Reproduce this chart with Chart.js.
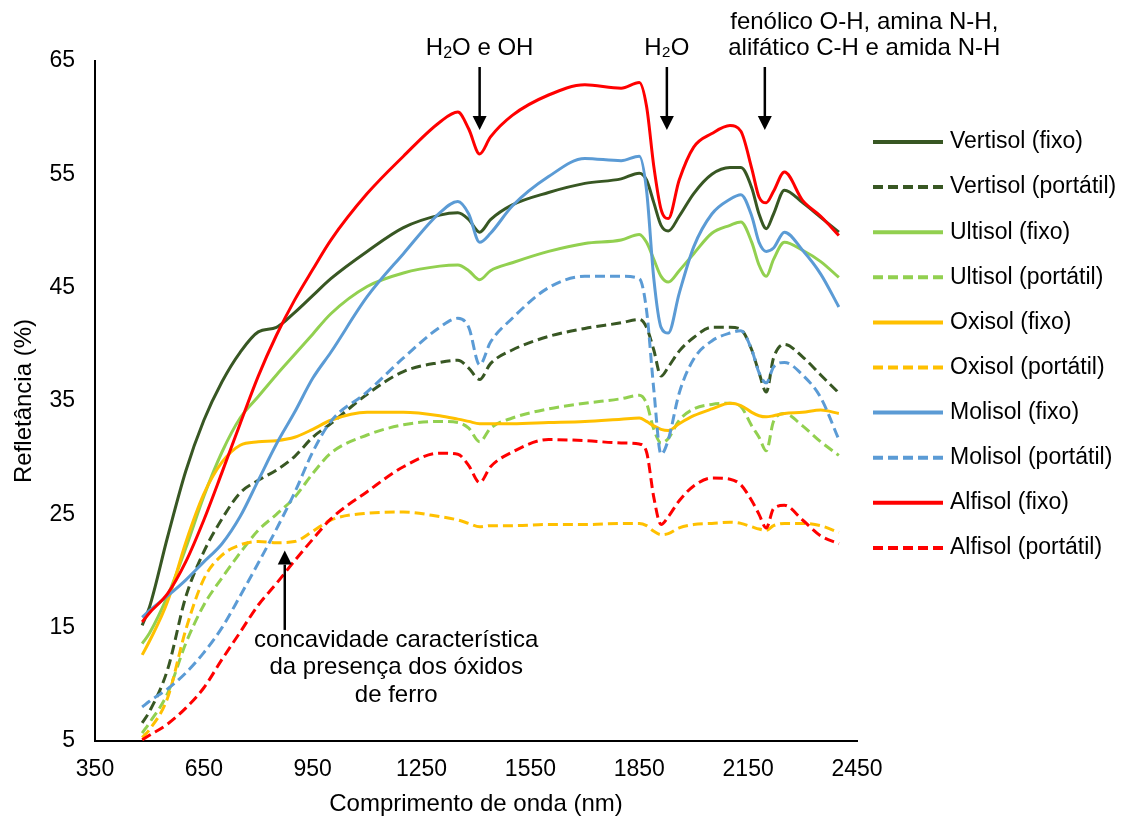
<!DOCTYPE html>
<html>
<head>
<meta charset="utf-8">
<script src="https://cdn.jsdelivr.net/npm/chart.js@4.4.1/dist/chart.umd.min.js"></script>
<style>
  html, body { margin: 0; padding: 0; background: #fff; }
  #wrap { width: 1136px; height: 820px; }
</style>
</head>
<body>
<div id="wrap"><canvas id="chart"></canvas></div>
<script>
// wavelength (nm)
const wavelengths = [480, 500, 550, 600, 650, 700, 750, 800, 850, 900, 950, 1000, 1100, 1200, 1300, 1350, 1380, 1410, 1440, 1500,
  1600, 1700, 1800, 1850, 1870, 1890, 1910, 1930, 1960, 2000, 2050, 2100, 2130, 2160, 2180, 2200, 2220, 2250, 2300, 2350, 2400];

// reflectance (%) per soil / sensor
const vertisolFixo = [15.2, 16.8, 23.0, 28.8, 33.3, 36.7, 39.3, 41.1, 41.5, 42.8, 44.3, 45.8, 48.2, 50.3, 51.4, 51.6, 51.0, 49.9, 51.0, 52.3,
  53.4, 54.2, 54.6, 55.1, 54.5, 52.5, 50.5, 50.0, 51.3, 53.3, 55.0, 55.6, 55.6, 53.8, 51.5, 50.2, 51.5, 53.6, 52.5, 51.2, 49.9];
const vertisolPortatil = [6.6, 7.6, 11.3, 17.7, 21.7, 24.6, 26.9, 28.0, 28.9, 30.1, 31.8, 33.0, 35.6, 37.6, 38.4, 38.6, 37.9, 36.9, 38.3, 39.5,
  40.7, 41.4, 41.9, 42.2, 41.5, 39.5, 37.2, 38.0, 39.4, 40.6, 41.5, 41.5, 41.3, 39.5, 37.5, 35.8, 38.8, 40.0, 38.9, 37.3, 35.7];
const ultisolFixo = [13.6, 14.5, 17.8, 22.0, 26.6, 30.5, 33.5, 35.4, 37.3, 39.1, 40.9, 42.7, 45.1, 46.3, 46.9, 47.0, 46.5, 45.7, 46.5, 47.2,
  48.2, 48.9, 49.2, 49.7, 49.0, 47.5, 46.0, 45.5, 46.5, 48.0, 49.8, 50.5, 50.8, 49.0, 47.0, 46.0, 47.5, 49.0, 48.3, 47.3, 45.9];
const ultisolPortatil = [5.7, 6.6, 9.2, 13.6, 17.0, 19.4, 21.6, 23.6, 25.0, 26.5, 28.6, 30.4, 32.0, 32.9, 33.2, 33.1, 32.6, 31.4, 32.6, 33.5,
  34.3, 34.8, 35.2, 35.5, 34.8, 32.5, 31.3, 31.7, 33.3, 34.3, 34.7, 34.8, 34.5, 32.8, 31.8, 30.6, 33.2, 33.9, 32.8, 31.4, 30.2];
const oxisolFixo = [12.6, 13.8, 17.3, 22.5, 26.8, 29.6, 31.1, 31.4, 31.5, 31.8, 32.5, 33.3, 34.0, 34.0, 33.7, 33.4, 33.2, 33.0, 33.0, 33.0,
  33.1, 33.2, 33.4, 33.5, 33.2, 32.8, 32.5, 32.4, 33.0, 33.7, 34.3, 34.8, 34.6, 34.0, 33.7, 33.6, 33.7, 33.9, 34.0, 34.2, 33.9];
const oxisolPortatil = [5.3, 6.0, 8.8, 14.8, 19.3, 21.4, 22.3, 22.6, 22.5, 22.6, 23.5, 24.5, 25.1, 25.2, 24.8, 24.5, 24.2, 23.9, 24.0, 24.0,
  24.1, 24.1, 24.2, 24.2, 24.0, 23.5, 23.2, 23.3, 23.8, 24.1, 24.2, 24.3, 24.2, 23.9, 23.7, 23.6, 24.0, 24.2, 24.2, 24.0, 23.4];
const molisolFixo = [15.9, 16.5, 17.8, 19.2, 20.8, 22.4, 24.8, 28.0, 31.2, 34.0, 37.0, 39.3, 44.2, 48.0, 51.6, 52.6, 51.5, 49.0, 49.8, 52.2,
  54.8, 56.4, 56.2, 56.6, 53.6, 45.8, 41.5, 41.0, 44.5, 48.6, 51.5, 52.8, 53.2, 51.3, 49.0, 48.2, 48.5, 49.9, 48.3, 46.2, 43.3];
const molisolPortatil = [8.0, 8.5, 9.6, 11.0, 12.8, 15.0, 17.8, 20.7, 23.7, 26.9, 30.5, 33.2, 35.8, 38.8, 41.5, 42.3, 41.5, 38.2, 40.2, 42.3,
  45.0, 46.0, 46.0, 45.8, 43.0, 36.0, 30.3, 31.6, 35.7, 38.7, 40.3, 41.0, 41.2, 39.5, 37.5, 36.6, 38.0, 38.4, 37.3, 35.3, 31.6];
const alfisolFixo = [15.5, 16.3, 18.0, 20.8, 24.5, 28.7, 33.0, 37.2, 40.8, 43.9, 46.6, 49.2, 53.3, 56.6, 59.6, 60.5, 59.0, 56.8, 58.3, 60.2,
  62.0, 62.9, 62.6, 63.1, 61.0, 55.7, 51.9, 51.1, 54.5, 57.4, 58.6, 59.3, 58.8, 55.5, 53.0, 52.5, 53.5, 55.2, 52.7, 51.3, 49.6];
const alfisolPortatil = [5.1, 5.5, 6.5, 7.9, 9.7, 12.2, 14.6, 17.0, 18.9, 20.9, 22.8, 24.6, 27.0, 29.2, 30.4, 30.3, 29.3, 27.8, 29.2, 30.5,
  31.6, 31.5, 31.3, 31.2, 30.5, 26.5, 24.1, 24.8, 26.2, 27.5, 28.2, 28.1, 27.6, 26.2, 25.0, 23.8, 25.5, 25.8, 24.5, 23.1, 22.4];

const seriesNames = ['Vertisol (fixo)', 'Vertisol (portátil)', 'Ultisol (fixo)', 'Ultisol (portátil)', 'Oxisol (fixo)',
  'Oxisol (portátil)', 'Molisol (fixo)', 'Molisol (portátil)', 'Alfisol (fixo)', 'Alfisol (portátil)'];
const seriesValues = [vertisolFixo, vertisolPortatil, ultisolFixo, ultisolPortatil, oxisolFixo,
  oxisolPortatil, molisolFixo, molisolPortatil, alfisolFixo, alfisolPortatil];
const seriesColors = ['#385723', '#385723', '#92D050', '#92D050', '#FFC000', '#FFC000', '#5B9BD5', '#5B9BD5', '#FF0000', '#FF0000'];

const xTicks = [350, 650, 950, 1250, 1550, 1850, 2150, 2450];
const yTicks = [5, 15, 25, 35, 45, 55, 65];

const FONT = '"Liberation Sans", Arial, sans-serif';
const DASH = [10, 5];

const datasets = seriesNames.map((name, i) => ({
  label: name,
  data: wavelengths.map((w, j) => ({ x: w, y: seriesValues[i][j] })),
  borderColor: seriesColors[i],
  backgroundColor: seriesColors[i],
  borderWidth: 3,
  borderDash: i % 2 ? DASH : [],
  pointRadius: 0,
  cubicInterpolationMode: 'monotone',
  fill: false,
  order: -i, // later series on top, like the source
}));

function arrow(ctx, x, yFrom, yTo) {
  const dir = yTo > yFrom ? 1 : -1;
  const head = 14;
  ctx.beginPath();
  ctx.moveTo(x, yFrom);
  ctx.lineTo(x, yTo - dir * head);
  ctx.lineWidth = 2.5;
  ctx.strokeStyle = '#000';
  ctx.stroke();
  ctx.beginPath();
  ctx.moveTo(x, yTo);
  ctx.lineTo(x - 7, yTo - dir * head);
  ctx.lineTo(x + 7, yTo - dir * head);
  ctx.closePath();
  ctx.fillStyle = '#000';
  ctx.fill();
}

const annotations = {
  id: 'annotations',
  afterDatasetsDraw(chart) {
    const { ctx, scales: { x, y }, chartArea } = chart;
    ctx.save();
    ctx.fillStyle = '#000';
    ctx.textBaseline = 'middle';
    ctx.font = '24px ' + FONT;

    // H2O e OH
    const x1 = x.getPixelForValue(1410);
    ctx.textAlign = 'left';
    const wH = ctx.measureText('H').width;
    const wRest = ctx.measureText('O e OH').width;
    ctx.font = '16px ' + FONT;
    const w2 = ctx.measureText('2').width;
    let sx = x1 - (wH + w2 + wRest) / 2;
    const ty = chartArea.top - 13;
    ctx.font = '24px ' + FONT;
    ctx.fillText('H', sx, ty);
    ctx.font = '16px ' + FONT;
    ctx.fillText('2', sx + wH, ty + 6);
    ctx.font = '24px ' + FONT;
    ctx.fillText('O e OH', sx + wH + w2, ty);
    arrow(ctx, x1, chartArea.top + 6, chartArea.top + 69);

    // H2O
    const x2 = x.getPixelForValue(1926);
    ctx.textAlign = 'center';
    ctx.fillText('H₂O', x2, ty);
    arrow(ctx, x2, chartArea.top + 6, chartArea.top + 69);

    // organic bands
    const x3 = x.getPixelForValue(2196);
    const xt = x.getPixelForValue(2470);
    ctx.fillText('fenólico O-H, amina N-H,', xt, chartArea.top - 39);
    ctx.fillText('alifático C-H e amida N-H', xt, ty);
    arrow(ctx, x3, chartArea.top + 6, chartArea.top + 69);

    // iron oxides
    const x4 = x.getPixelForValue(873);
    arrow(ctx, x4, y.getPixelForValue(14.8), y.getPixelForValue(21.8));
    const xc = x.getPixelForValue(1180);
    const yc = y.getPixelForValue(13.9);
    ctx.fillText('concavidade característica', xc, yc);
    ctx.fillText('da presença dos óxidos', xc, yc + 27.5);
    ctx.fillText('de ferro', xc, yc + 55);
    ctx.restore();
  }
};

const sideLegend = {
  id: 'sideLegend',
  afterDraw(chart) {
    const { ctx } = chart;
    ctx.save();
    ctx.font = '23px ' + FONT;
    ctx.textBaseline = 'middle';
    ctx.textAlign = 'left';
    chart.data.datasets.forEach((ds, i) => {
      const yy = 142 + i * 45.1;
      ctx.beginPath();
      ctx.setLineDash(ds.borderDash);
      ctx.lineWidth = 4;
      ctx.strokeStyle = ds.borderColor;
      ctx.moveTo(873, yy);
      ctx.lineTo(943, yy);
      ctx.stroke();
      ctx.setLineDash([]);
      ctx.fillStyle = '#000';
      ctx.fillText(ds.label, 950, yy);
    });
    ctx.restore();
  }
};

new Chart(document.getElementById('chart'), {
  type: 'line',
  data: { datasets },
  options: {
    responsive: true,
    maintainAspectRatio: false,
    animation: false,
    events: [],
    layout: { padding: { top: 61, right: 279, bottom: 0, left: 0 } },
    plugins: { legend: { display: false }, tooltip: { enabled: false } },
    scales: {
      x: {
        type: 'linear',
        min: 350,
        max: 2450,
        afterFit(scale) { scale.height = 79; },
        afterBuildTicks(scale) { scale.ticks = xTicks.map(v => ({ value: v })); },
        grid: { display: false, drawTicks: false },
        border: { display: true, color: '#000', width: 2 },
        ticks: { color: '#000', font: { family: FONT, size: 23 }, padding: 15, maxRotation: 0, autoSkip: false,
          callback: v => String(v) },
        title: { display: true, text: 'Comprimento de onda (nm)', color: '#000', font: { family: FONT, size: 24 }, padding: { top: 0, bottom: 1 } }
      },
      y: {
        min: 5,
        max: 65,
        afterFit(scale) { scale.width = 95; },
        afterBuildTicks(scale) { scale.ticks = yTicks.map(v => ({ value: v })); },
        grid: { display: false, drawTicks: false },
        border: { display: true, color: '#000', width: 2 },
        ticks: { color: '#000', font: { family: FONT, size: 23 }, padding: 20, autoSkip: false,
          callback: v => String(v) },
        title: { display: true, text: 'Refletância (%)', color: '#000', font: { family: FONT, size: 24 }, padding: { top: 10, bottom: 0 } }
      }
    }
  },
  plugins: [annotations, sideLegend]
});
</script>
</body>
</html>
